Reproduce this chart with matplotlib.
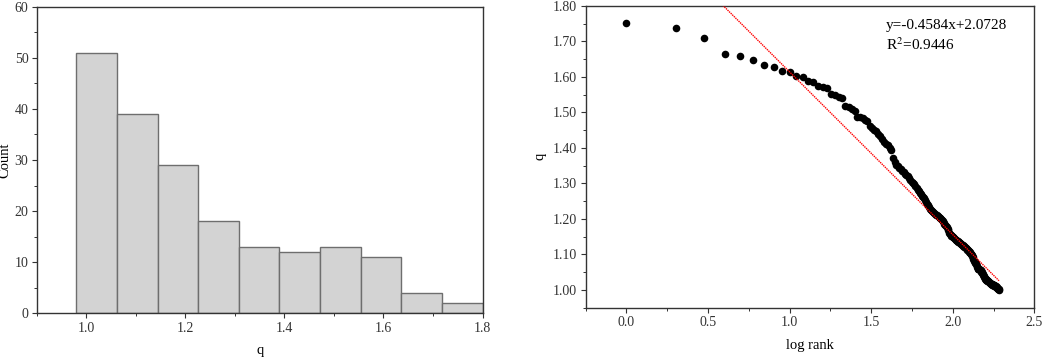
# Histograma de q y grafico rango-tamano (log rank vs q)

import numpy as np
import matplotlib
matplotlib.use("Agg")
import matplotlib.pyplot as plt
from matplotlib.ticker import MultipleLocator, FormatStrFormatter

plt.rcParams['font.family'] = ['Liberation Serif', 'DejaVu Serif']
plt.rcParams['mathtext.fontset'] = 'stix'

# histograma: conteos por clase
bin_start = 0.98
bin_width = 0.082
counts = [51, 39, 29, 18, 13, 12, 13, 11, 4, 2]

# valores de q ordenados de mayor a menor (rango 1..192)
q_sorted = [
    1.753, 1.738, 1.709, 1.666, 1.660, 1.647, 1.634, 1.629, 1.616, 1.613,
    1.603, 1.600, 1.588, 1.585, 1.574, 1.571, 1.569, 1.552, 1.548, 1.543,
    1.540, 1.519, 1.515, 1.510, 1.505, 1.488, 1.487, 1.485, 1.480, 1.475,
    1.462, 1.455, 1.452, 1.447, 1.440, 1.433, 1.425, 1.418, 1.412, 1.408,
    1.400, 1.393, 1.372, 1.360, 1.353, 1.348, 1.344, 1.340, 1.336, 1.332,
    1.328, 1.325, 1.320, 1.315, 1.310, 1.305, 1.302, 1.298, 1.292, 1.287,
    1.282, 1.278, 1.274, 1.270, 1.266, 1.262, 1.258, 1.253, 1.248, 1.243,
    1.238, 1.233, 1.228, 1.225, 1.222, 1.219, 1.216, 1.214, 1.212, 1.210,
    1.208, 1.206, 1.204, 1.202, 1.200, 1.197, 1.194, 1.190, 1.186, 1.183,
    1.180, 1.177, 1.173, 1.170, 1.161, 1.157, 1.155, 1.153, 1.152, 1.150,
    1.148, 1.146, 1.143, 1.142, 1.140, 1.139, 1.138, 1.136, 1.135, 1.133,
    1.132, 1.130, 1.129, 1.127, 1.126, 1.124, 1.123, 1.121, 1.120, 1.118,
    1.117, 1.115, 1.113, 1.112, 1.110, 1.108, 1.106, 1.104, 1.102, 1.100,
    1.098, 1.096, 1.093, 1.087, 1.083, 1.080, 1.077, 1.075, 1.072, 1.068,
    1.064, 1.060, 1.059, 1.058, 1.058, 1.057, 1.056, 1.055, 1.053, 1.052,
    1.050, 1.048, 1.046, 1.042, 1.038, 1.036, 1.034, 1.032, 1.030, 1.029,
    1.028, 1.027, 1.026, 1.025, 1.024, 1.023, 1.022, 1.021, 1.020, 1.019,
    1.018, 1.017, 1.017, 1.016, 1.015, 1.014, 1.014, 1.013, 1.013, 1.012,
    1.011, 1.010, 1.010, 1.009, 1.008, 1.007, 1.006, 1.005, 1.004, 1.003,
    1.002, 1.000,
]

# ajuste lineal reportado
slope = -0.4584
intercept = 2.0728
r2 = 0.9446

log_rank = np.log10(np.arange(1, len(q_sorted) + 1))

fig = plt.figure(figsize=(10.52, 3.57), dpi=100)
ax1 = fig.add_axes([0.0349, 0.1224, 0.4238, 0.8588])
ax2 = fig.add_axes([0.5567, 0.138, 0.4265, 0.8452])

# --- histograma ---
lefts = bin_start + bin_width * np.arange(len(counts))
ax1.bar(lefts, counts, width=bin_width, align='edge', color='#d3d3d3',
        edgecolor='#6e6e6e', linewidth=1.0)
ax1.set_xlim(0.9, 1.8)
ax1.set_ylim(0, 60)
ax1.xaxis.set_major_locator(MultipleLocator(0.2))
ax1.xaxis.set_minor_locator(MultipleLocator(0.1))
ax1.xaxis.set_major_formatter(FormatStrFormatter('%.1f'))
ax1.yaxis.set_major_locator(MultipleLocator(10))
ax1.yaxis.set_minor_locator(MultipleLocator(5))
ax1.set_xlabel('q', fontsize=10.5, labelpad=7)
ax1.set_ylabel('Count', fontsize=10.5, labelpad=2)

# --- rango-tamano ---
ax2.scatter(log_rank, q_sorted, s=30, color='black', zorder=3, linewidths=0)
x_fit = np.array([0.0, log_rank[-1]])
ax2.plot(x_fit, intercept + slope * x_fit, color='red', lw=1.0,
         linestyle=(0, (1, 0.6)), zorder=4)
ax2.set_xlim(-0.25, 2.5)
ax2.set_ylim(0.95, 1.80)
ax2.xaxis.set_major_locator(MultipleLocator(0.5))
ax2.xaxis.set_minor_locator(MultipleLocator(0.25))
ax2.xaxis.set_major_formatter(FormatStrFormatter('%.1f'))
ax2.yaxis.set_major_locator(MultipleLocator(0.1))
ax2.yaxis.set_minor_locator(MultipleLocator(0.05))
ax2.yaxis.set_major_formatter(FormatStrFormatter('%.2f'))
ax2.set_xlabel('log rank', fontsize=10.5, labelpad=7)
ax2.set_ylabel('q', fontsize=10.5, labelpad=5)
ax2.text(0.669, 0.925, 'y=%.4fx+%.4f' % (slope, intercept), transform=ax2.transAxes,
         fontsize=11, va='baseline')
ax2.text(0.669, 0.855, 'R$^2$=%.4f' % r2, transform=ax2.transAxes,
         fontsize=11, va='baseline')

for ax in (ax1, ax2):
    for sp in ax.spines.values():
        sp.set_color('#333333')
        sp.set_linewidth(1.0)
    ax.tick_params(which='major', direction='out', length=3.5, width=0.8,
                   labelsize=10, colors='#333333', labelcolor='#333333', pad=2.5)
    ax.tick_params(which='minor', direction='out', length=2, width=0.7,
                   colors='#333333')
    ax.tick_params(top=False, right=False, which='both')

fig.savefig('out.png', dpi=100)
